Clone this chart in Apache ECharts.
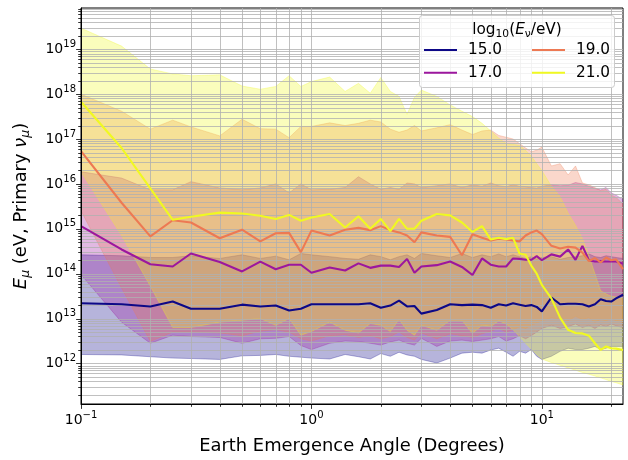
<!DOCTYPE html>
<html>
<head>
<meta charset="utf-8">
<script src="https://cdn.jsdelivr.net/npm/echarts@6/dist/echarts.min.js"></script>
<style>
  html, body { margin: 0; padding: 0; background: #ffffff; }
  #chart { width: 628px; height: 460px; }
</style>
</head>
<body>
<div id="chart"></div>
<script>
// Earth emergence angle (degrees) of each sample
const angles = [0.1, 0.15, 0.2, 0.25, 0.3, 0.4, 0.5, 0.6, 0.7, 0.8, 0.9, 1.0,
  1.2, 1.4, 1.6, 1.8, 2.0, 2.2, 2.4, 2.6, 2.8, 3.0,
  3.5, 4.0, 4.5, 5.0, 5.5, 6.0, 6.5, 7.0, 7.5, 8.0, 8.5, 9.0, 9.5, 10,
  11, 12, 13, 14, 15, 16, 17, 18, 19, 20, 21, 22.5];

// log10(E_mu / eV): central value and band edges for each primary energy
const mu15 = [13.34, 13.32, 13.27, 13.38, 13.22, 13.22, 13.31, 13.27, 13.29, 13.18, 13.22, 13.32,
  13.32, 13.32, 13.32, 13.34, 13.24, 13.29, 13.40, 13.27, 13.28, 13.11,
  13.19, 13.32, 13.30, 13.31, 13.30, 13.24, 13.32, 13.29, 13.34, 13.31, 13.28, 13.30, 13.26, 13.16,
  13.47, 13.32, 13.33, 13.33, 13.32, 13.27, 13.32, 13.43, 13.39, 13.38, 13.45, 13.53];
const mu15Hi = [14.42, 14.40, 14.36, 14.36, 14.40, 14.34, 14.42, 14.34, 14.39, 14.31, 14.45, 14.42,
  14.38, 14.34, 14.32, 14.42, 14.38, 14.31, 14.38, 14.42, 14.34, 14.45,
  14.40, 14.36, 14.45, 14.36, 14.42, 14.38, 14.44, 14.38, 14.42, 14.38, 14.34, 14.38, 14.33, 14.36,
  14.38, 14.32, 14.36, 14.38, 14.40, 14.44, 14.38, 14.36, 14.40, 14.38, 14.36, 14.34];
const mu15Lo = [12.20, 12.19, 12.15, 12.12, 12.11, 12.09, 12.17, 12.18, 12.20, 12.16, 12.14, 12.12,
  12.10, 12.20, 12.15, 12.10, 12.22, 12.16, 12.25, 12.19, 12.16, 12.09,
  12.01, 12.12, 12.23, 12.25, 12.23, 12.30, 12.34, 12.25, 12.16, 12.27, 12.23, 12.31, 12.16, 12.09,
  12.16, 12.27, 12.34, 12.31, 12.31, 12.34, 12.38, 12.31, 12.34, 12.38, 12.38, 12.38];

const mu17 = [15.06, 14.54, 14.21, 14.16, 14.45, 14.26, 14.05, 14.27, 14.10, 14.20, 14.20, 14.02,
  14.14, 14.07, 14.23, 14.13, 14.18, 14.18, 14.15, 14.33, 14.02, 14.16,
  14.19, 14.27, 14.15, 13.97, 14.34, 14.20, 14.16, 14.16, 14.34, 14.33, 14.31, 14.31, 14.39, 14.30,
  14.43, 14.38, 14.54, 14.31, 14.62, 14.30, 14.27, 14.28, 14.27, 14.27, 14.27, 14.22];
const mu17Hi = [16.27, 16.13, 15.87, 15.87, 16.05, 15.91, 15.87, 15.91, 16.00, 15.80, 16.00, 15.87,
  15.88, 15.92, 16.16, 16.00, 15.88, 15.92, 15.88, 16.02, 16.00, 15.92,
  15.96, 16.00, 15.92, 15.98, 15.95, 16.02, 15.96, 15.94, 15.98, 15.95, 15.94, 15.92, 15.91, 15.95,
  15.98, 15.96, 15.97, 16.03, 16.00, 15.95, 15.90, 15.87, 15.92, 15.80, 15.75, 15.65];
const mu17Lo = [13.98, 12.92, 12.45, 12.63, 12.60, 12.58, 12.45, 12.55, 12.56, 12.60, 12.40, 12.31,
  12.45, 12.50, 12.49, 12.45, 12.41, 12.48, 12.52, 12.45, 12.41, 12.56,
  12.38, 12.50, 12.52, 12.49, 12.52, 12.55, 12.60, 12.50, 12.55, 12.62, 12.55, 12.62, 12.70, 12.78,
  12.85, 12.78, 12.82, 12.88, 12.80, 12.85, 12.78, 12.86, 12.82, 12.88, 12.84, 12.80];

const mu19 = [16.73, 15.58, 14.83, 15.19, 15.14, 14.79, 14.98, 14.72, 14.90, 14.91, 14.48, 14.96,
  14.85, 14.98, 15.02, 14.97, 15.06, 14.97, 14.92, 14.85, 14.70, 14.92,
  14.85, 14.82, 14.41, 14.88, 14.80, 14.74, 14.78, 14.76, 14.74, 14.72, 14.85, 14.92, 14.96, 14.88,
  14.62, 14.56, 14.60, 14.58, 14.47, 14.28, 14.35, 14.25, 14.36, 14.30, 14.32, 14.10];
const mu19Hi = [18.00, 17.62, 17.22, 17.42, 17.27, 17.07, 17.44, 17.23, 17.22, 17.03, 17.28, 17.28,
  17.36, 17.30, 17.35, 17.42, 17.38, 17.22, 17.15, 17.20, 17.30, 17.18,
  17.25, 17.32, 17.20, 17.10, 17.18, 17.20, 17.08, 17.04, 17.00, 16.90, 16.80, 16.72, 16.75, 16.82,
  16.40, 16.45, 16.20, 16.40, 16.02, 15.98, 15.92, 15.85, 15.88, 15.75, 15.70, 15.55];
const mu19Lo = [15.40, 13.68, 12.49, 12.70, 12.70, 12.68, 12.62, 12.72, 12.75, 12.70, 12.55, 12.50,
  12.62, 12.64, 12.58, 12.62, 12.55, 12.60, 12.70, 12.58, 12.52, 12.68,
  12.55, 12.66, 12.62, 12.58, 12.66, 12.72, 12.78, 12.70, 12.75, 12.82, 12.78, 12.85, 12.90, 12.95,
  13.02, 12.98, 12.95, 13.05, 12.98, 13.02, 12.92, 12.98, 12.95, 13.00, 12.95, 12.92];

const mu21 = [17.83, 16.80, 15.90, 15.20, 15.27, 15.36, 15.34, 15.29, 15.22, 15.31, 15.18, 15.25,
  15.33, 15.03, 15.28, 15.00, 15.22, 14.95, 15.22, 15.00, 15.00, 15.18,
  15.33, 15.30, 15.14, 14.93, 15.06, 14.76, 14.80, 14.77, 14.80, 14.45, 14.42, 14.18, 14.00, 13.75,
  13.45, 13.02, 12.75, 12.68, 12.67, 12.62, 12.45, 12.30, 12.38, 12.34, 12.33, 12.30];
const mu21Hi = [19.47, 19.07, 18.56, 18.45, 18.41, 18.43, 18.18, 18.11, 18.17, 18.41, 18.17, 18.28,
  18.38, 18.06, 18.24, 18.02, 18.37, 18.06, 17.95, 17.55, 17.93, 18.09,
  17.95, 17.76, 17.62, 17.50, 17.35, 17.18, 17.02, 16.90, 16.88, 16.86, 16.75, 16.62, 16.45, 16.30,
  15.95, 15.72, 15.35, 15.08, 14.78, 14.40, 14.00, 13.62, 13.55, 13.50, 13.48, 13.45];
const mu21Lo = [16.27, 14.85, 13.72, 12.80, 12.80, 12.92, 12.96, 13.00, 12.85, 13.00, 12.63, 12.71,
  12.92, 12.74, 12.68, 12.89, 12.85, 12.71, 12.98, 12.74, 12.63, 12.85,
  12.74, 12.96, 12.96, 12.67, 12.85, 12.82, 12.95, 12.88, 12.75, 12.60, 12.45, 12.32, 12.20, 12.10,
  12.02, 11.96, 11.90, 11.85, 11.80, 11.76, 11.72, 11.68, 11.64, 11.60, 11.57, 11.52];

const seriesNames = ['15.0', '17.0', '19.0', '21.0'];
const centralSets = [mu15, mu17, mu19, mu21];
const upperSets = [mu15Hi, mu17Hi, mu19Hi, mu21Hi];
const lowerSets = [mu15Lo, mu17Lo, mu19Lo, mu21Lo];

// labelled decades on each axis
const xTickExponents = [-1, 0, 1];
const yTickExponents = [12, 13, 14, 15, 16, 17, 18, 19];

// plasma colours for 15, 17, 19, 21
const palette = ['#0d0887', '#9c179e', '#ed7953', '#f0f921'];
const FONT = 'DejaVu Sans';
const X_MIN = 0.1, X_MAX = 22.5, Y_MIN = 1.25e11, Y_MAX = 8.3e19;

function withAlpha(hex, a) {
  const n = parseInt(hex.slice(1), 16);
  return 'rgba(' + ((n >> 16) & 255) + ',' + ((n >> 8) & 255) + ',' + (n & 255) + ',' + a + ')';
}

// every 1..9 x 10^e position inside the range (grid lines and minor ticks)
function logPositions(lo, hi) {
  const out = [];
  for (let e = Math.floor(Math.log10(lo)); e <= Math.ceil(Math.log10(hi)); e++) {
    for (let m = 1; m <= 9; m++) {
      const v = m * Math.pow(10, e);
      if (v >= lo * 0.9999 && v <= hi * 1.0001) out.push({ v: v, major: m === 1 });
    }
  }
  return out;
}
const gridXs = logPositions(X_MIN, X_MAX);
const gridYs = logPositions(Y_MIN, Y_MAX);

function powLabel(value, exps) {
  const e = Math.round(Math.log10(value));
  if (Math.abs(Math.log10(value) - e) > 1e-6 || exps.indexOf(e) < 0) return '';
  return '{b|10}{s|' + String(e).replace('-', '\u2212') + '}';
}

const tickRich = {
  b: { fontFamily: FONT, fontSize: 14, color: '#000', lineHeight: 20, verticalAlign: 'middle' },
  s: { fontFamily: FONT, fontSize: 10, color: '#000', lineHeight: 8, verticalAlign: 'top' }
};

const series = [];

// shaded ranges
for (let k = 0; k < 4; k++) {
  const lo = lowerSets[k], hi = upperSets[k], col = palette[k];
  series.push({
    type: 'custom',
    z: 1,
    silent: true,
    animation: false,
    clip: true,
    data: [[1, 1e15]],
    encode: { x: 0, y: 1 },
    renderItem: function (params, api) {
      const pts = [];
      for (let i = 0; i < angles.length; i++) pts.push(api.coord([angles[i], Math.pow(10, hi[i])]));
      for (let i = angles.length - 1; i >= 0; i--) pts.push(api.coord([angles[i], Math.pow(10, lo[i])]));
      return {
        type: 'polygon',
        shape: { points: pts },
        style: { fill: withAlpha(col, 0.3), stroke: withAlpha(col, 0.3), lineWidth: 1 }
      };
    }
  });
}

// grid lines (major and minor) plus tick marks
series.push({
  type: 'custom',
  z: 2,
  silent: true,
  animation: false,
  data: [[1, 1e15]],
  encode: { x: 0, y: 1 },
  renderItem: function (params, api) {
    const cs = params.coordSys;
    const kids = [];
    const gridStyle = { stroke: '#b0b0b0', lineWidth: 0.8 };
    const tickStyle = { stroke: '#000000', lineWidth: 0.8 };
    gridXs.forEach(function (g) {
      const x = Math.round(api.coord([g.v, 1e15])[0]) + 0.5;
      kids.push({ type: 'line', shape: { x1: x, y1: cs.y, x2: x, y2: cs.y + cs.height }, style: gridStyle });
      const len = g.major ? 4.9 : 2.8;
      kids.push({ type: 'line', shape: { x1: x, y1: cs.y + cs.height, x2: x, y2: cs.y + cs.height + len }, style: tickStyle });
    });
    gridYs.forEach(function (g) {
      const y = Math.round(api.coord([1, g.v])[1]) + 0.5;
      kids.push({ type: 'line', shape: { x1: cs.x, y1: y, x2: cs.x + cs.width, y2: y }, style: gridStyle });
      const len = g.major ? 4.9 : 2.8;
      kids.push({ type: 'line', shape: { x1: cs.x - len, y1: y, x2: cs.x, y2: y }, style: tickStyle });
    });
    return { type: 'group', children: kids };
  }
});

// central lines
for (let k = 0; k < 4; k++) {
  const vals = centralSets[k];
  series.push({
    name: seriesNames[k],
    type: 'line',
    z: 3,
    color: palette[k],
    symbol: 'none',
    showSymbol: false,
    animation: false,
    clip: true,
    lineStyle: { width: 2.1, color: palette[k] },
    emphasis: { disabled: true },
    data: angles.map(function (a, i) { return [a, Math.pow(10, vals[i])]; })
  });
}

const legendText = {
  fontFamily: FONT, fontSize: 15.3, color: '#000', lineHeight: 16, padding: [0, 0, 0, 6]
};
function legendBlock(names, left) {
  return {
    data: names.map(function (n) { return { name: n, icon: 'rect' }; }),
    orient: 'vertical', left: left, top: 42, padding: 0,
    itemWidth: 33, itemHeight: 2.1, itemGap: 6.7, z: 110,
    selectedMode: false, textStyle: legendText
  };
}

const chart = echarts.init(document.getElementById('chart'), null, { renderer: 'canvas' });
chart.setOption({
  animation: false,
  backgroundColor: '#ffffff',
  grid: { left: 81, right: 5, top: 8, bottom: 48, show: true, borderColor: '#000000', borderWidth: 1, backgroundColor: 'transparent' },
  xAxis: {
    type: 'log', logBase: 10, min: X_MIN, max: X_MAX, splitNumber: 10, z: 4,
    axisLine: { show: true, lineStyle: { color: '#000', width: 1 } },
    axisTick: { show: false },
    splitLine: { show: false },
    axisLabel: { margin: 6, formatter: function (v) { return powLabel(v, xTickExponents); }, rich: tickRich },
    name: 'Earth Emergence Angle (Degrees)',
    nameLocation: 'middle', nameGap: 33,
    nameTextStyle: { fontFamily: FONT, fontSize: 17.9, color: '#000' }
  },
  yAxis: {
    type: 'log', logBase: 10, min: Y_MIN, max: Y_MAX, splitNumber: 10, z: 4,
    axisLine: { show: true, lineStyle: { color: '#000', width: 1 } },
    axisTick: { show: false },
    splitLine: { show: false },
    axisLabel: { margin: 5, formatter: function (v) { return powLabel(v, yTickExponents); }, rich: tickRich },
    name: '{i|E}{s|\u03bc}{n| (eV, Primary }{i|\u03bd}{s|\u03bc}{n|)}',
    nameLocation: 'middle', nameGap: 49,
    nameTextStyle: {
      fontFamily: FONT, fontSize: 17.9, color: '#000',
      rich: {
        n: { fontFamily: FONT, fontSize: 17.9, color: '#000', lineHeight: 22, verticalAlign: 'middle' },
        i: { fontFamily: FONT, fontSize: 17.9, fontStyle: 'italic', color: '#000', lineHeight: 22, verticalAlign: 'middle' },
        s: { fontFamily: FONT, fontSize: 12.5, fontStyle: 'italic', color: '#000', lineHeight: 11, verticalAlign: 'bottom' }
      }
    }
  },
  legend: [legendBlock(['15.0', '17.0'], 424), legendBlock(['19.0', '21.0'], 532)],
  graphic: {
    elements: [
      {
        type: 'rect', z: 100, silent: true,
        shape: { x: 419.5, y: 15.5, width: 195, height: 72, r: 3 },
        style: { fill: 'rgba(255,255,255,0.8)', stroke: '#cccccc', lineWidth: 1 }
      },
      {
        type: 'text', z: 101, silent: true, x: 517, y: 30,
        style: {
          text: '{n|log}{s|10}{n|(}{i|E}{s|\u03bd}{n|/eV)}',
          align: 'center', verticalAlign: 'middle',
          rich: {
            n: { fontFamily: FONT, fontSize: 15.3, fill: '#000', lineHeight: 20, verticalAlign: 'middle' },
            i: { fontFamily: FONT, fontSize: 15.3, fontStyle: 'italic', fill: '#000', lineHeight: 20, verticalAlign: 'middle' },
            s: { fontFamily: FONT, fontSize: 10.7, fill: '#000', lineHeight: 10, verticalAlign: 'bottom' }
          }
        }
      }
    ]
  },
  series: series
});
</script>
</body>
</html>
